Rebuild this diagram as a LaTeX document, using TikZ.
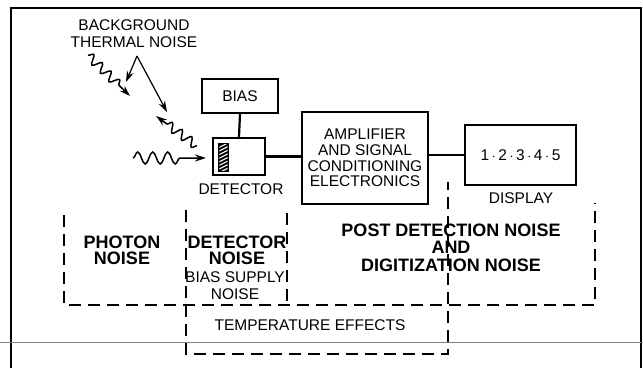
\documentclass[tikz,border=0pt]{standalone}
\usepackage{fontspec}
\setmainfont{Liberation Sans}
\usetikzlibrary{decorations.pathmorphing,arrows.meta}
\begin{document}
\begin{tikzpicture}[x=1pt,y=-1pt,
  box/.style={draw, line width=2pt, inner sep=0pt, font=\fontsize{15.5}{15.7}\selectfont, align=center},
  lbl/.style={font=\fontsize{15.5}{16.5}\selectfont, align=center, inner sep=0pt},
  blbl/.style={font=\bfseries\fontsize{18}{16.5}\selectfont, align=center, inner sep=0pt},
  zone/.style={line width=1.9pt, dash pattern=on 12pt off 7pt},
  conn/.style={line width=2.2pt},
  wave/.style={decorate, decoration={snake, amplitude=4.5pt, segment length=12pt, post length=13pt}, line width=1.5pt},
  tip/.style={-{Stealth[length=11pt,width=7pt]}}
]
\useasboundingbox (0,0) rectangle (643,368);
% frame
\draw[line width=1.1pt] (11,368) -- (11,8) -- (641,8) -- (641,368);
\draw[gray, line width=0.9pt] (0,342) -- (643,342);

% boxes
\node[box, minimum width=76pt, minimum height=34pt] (bias) at (240,96) {BIAS};
\node[box, minimum width=52pt, minimum height=37pt] (det) at (239,156.5) {};
\node[box, minimum width=126pt, minimum height=92pt] (amp) at (365,158) {AMPLIFIER\\AND SIGNAL\\CONDITIONING\\ELECTRONICS};
\node[box, minimum width=111pt, minimum height=60pt] (disp) at (520.5,155) {1\,$\cdot$\,2\,$\cdot$\,3\,$\cdot$\,4\,$\cdot$\,5};

% hatched element
\fill (218,143) rectangle (229,172);
\begin{scope}
  \clip (219.3,144.3) rectangle (227.7,170.7);
  \foreach \k in {0,...,9} \draw[white, line width=1.1pt] (214,150+\k*3.6) -- (234,140+\k*3.6);
\end{scope}

% connectors
\draw[conn] (bias.south) -- (det.north);
\draw[conn] (det.east) -- (det.east -| amp.west);
\draw[conn] (disp.west) -- (disp.west -| amp.east);

% labels
\node[lbl] (detlbl) at (241,189) {DETECTOR};
\node[lbl] (displbl) at (521,198) {DISPLAY};
\node[lbl] (bg) at (134,33.5) {BACKGROUND\\THERMAL NOISE};

% noise arrows
\coordinate (apex) at (137,56);
\coordinate (t1) at (126,82);
\coordinate (t2) at (167,112);
\draw[tip, line width=1.2pt] (apex) -- (t1);
\draw[tip, line width=1.2pt] (apex) -- (t2);

\coordinate (w1s) at (88,55);
\coordinate (w1e) at (130,96);
\draw[wave, tip] (w1s) -- (w1e);
\coordinate (w3s) at (197,146);
\coordinate (w3e) at (156,116);
\draw[wave, tip] (w3s) -- (w3e);
\coordinate (w4s) at (133,158);
\coordinate (w4e) at (206,158);
\draw[wave, tip, decoration={snake, amplitude=6pt, segment length=15pt, post length=24pt}] (w4s) -- (w4e);

% noise zones
\draw[zone] (64,215) -- (64,305) -- (595,305) -- (595,203);
\draw[zone] (186,210) -- (186,354) -- (448,354) -- (448,182);
\draw[zone] (287,213) -- (287,305);

\node[blbl] (photon) at (122,250.5) {PHOTON\\NOISE};
\node[blbl] (detnoise) at (237,250.5) {DETECTOR\\NOISE};
\node[lbl] (biasnoise) at (235,285.5) {BIAS SUPPLY\\NOISE};
\node[blbl, font=\bfseries\fontsize{18}{17.5}\selectfont] (post) at (451,247.5) {POST DETECTION NOISE\\AND\\DIGITIZATION NOISE};
\node[lbl] (temp) at (310,325) {TEMPERATURE EFFECTS};
\end{tikzpicture}
\end{document}
